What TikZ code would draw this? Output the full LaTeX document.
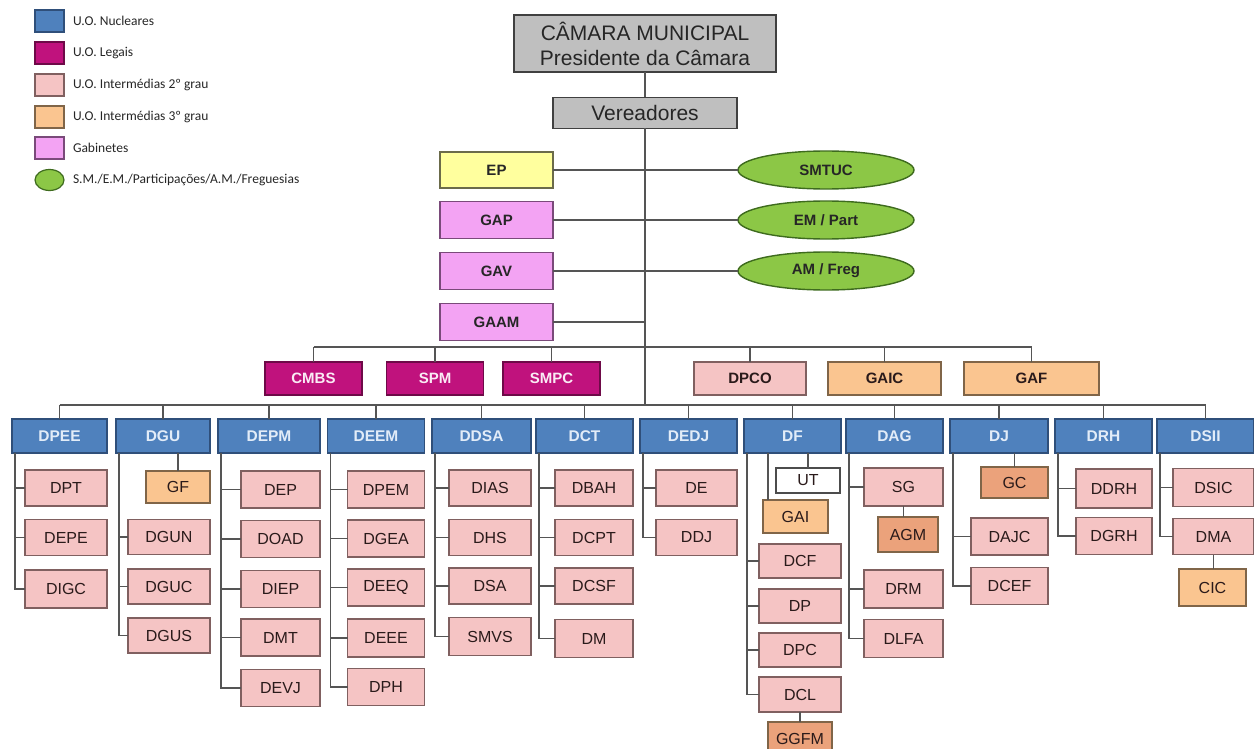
\documentclass[tikz,border=0pt]{standalone}
\usepackage{fontspec}
\setmainfont{Liberation Sans}
\newfontfamily\legfont{Carlito}
\usetikzlibrary{shapes.geometric}
\definecolor{lc}{HTML}{555555}
\definecolor{cgrey}{HTML}{BFBFBF}
\definecolor{cblue}{HTML}{4F81BD}
\definecolor{cblueb}{HTML}{2F4F7A}
\definecolor{cbluet}{HTML}{E2ECF8}
\definecolor{cmag}{HTML}{C0127D}
\definecolor{cmagb}{HTML}{6E0A48}
\definecolor{cpink}{HTML}{F5C4C4}
\definecolor{cpinkb}{HTML}{806060}
\definecolor{corange}{HTML}{FAC590}
\definecolor{corangeb}{HTML}{806548}
\definecolor{cdorange}{HTML}{EBA27B}
\definecolor{cviolet}{HTML}{F3A3F3}
\definecolor{cvioletb}{HTML}{7A4A7A}
\definecolor{cyellow}{HTML}{FFFF9E}
\definecolor{cyellowb}{HTML}{6B6B4A}
\definecolor{cgreen}{HTML}{8CC746}
\definecolor{cgreenb}{HTML}{3E6B1E}
\definecolor{ctext}{HTML}{2A1A1A}
\begin{document}
\begin{tikzpicture}[x=1pt,y=-1pt,
  every node/.style={inner sep=0pt, outer sep=0pt},
  ln/.style={draw=lc, line width=1.3pt},
  sz/.style 2 args={minimum width=#1pt, minimum height=#2pt},
  base/.style={rectangle, line width=1.4pt},
  grey/.style={base, fill=cgrey, draw=black!75, text=black!85, font=\fontsize{21}{25}\selectfont, align=center},
  blue/.style={base, fill=cblue, draw=cblueb, text=cbluet, font=\bfseries\fontsize{15.5}{18}\selectfont, sz={97}{34}},
  mag/.style={base, fill=cmag, draw=cmagb, text=white!92!cmag, font=\bfseries\fontsize{15}{18}\selectfont, sz={97}{33}},
  pk/.style={base, fill=cpink, draw=cpinkb, text=ctext, font=\fontsize{16}{19}\selectfont},
  pkb/.style={pk, font=\bfseries\fontsize{15}{18}\selectfont},
  org/.style={base, fill=corange, draw=corangeb, text=ctext, font=\fontsize{16}{19}\selectfont},
  orgb/.style={org, font=\bfseries\fontsize{15}{18}\selectfont},
  dorg/.style={base, fill=cdorange, draw=corangeb, text=ctext, font=\fontsize{16}{19}\selectfont},
  wht/.style={base, fill=white, draw=black!70, text=ctext, font=\fontsize{16}{19}\selectfont},
  vio/.style={base, fill=cviolet, draw=cvioletb, text=black!85, font=\bfseries\fontsize{15}{18}\selectfont, sz={113}{37}},
  yel/.style={base, fill=cyellow, draw=cyellowb, text=black!85, font=\bfseries\fontsize{15}{18}\selectfont, sz={113}{36}},
  grn/.style={ellipse, fill=cgreen, draw=cgreenb, line width=1.4pt, text=black!85, font=\bfseries\fontsize{15}{18}\selectfont, sz={176}{38}},
  legbox/.style={rectangle, line width=1.2pt, sz={29}{22}},
  legtxt/.style={anchor=west, font=\legfont\fontsize{13.5}{15}\selectfont, text=black!85}
]
\useasboundingbox (0,0) rectangle (1254,749);
\clip (0,0) rectangle (1254,749);

% ---------- legend ----------
\node[legbox, fill=cblue, draw=cblueb] (l1) at (49.5,21) {};
\node[legtxt] (t1) at (73,21) {U.O. Nucleares};
\node[legbox, fill=cmag, draw=cmagb] (l2) at (49.5,53) {};
\node[legtxt] (t2) at (73,53) {U.O. Legais};
\node[legbox, fill=cpink, draw=cpinkb] (l3) at (49.5,85) {};
\node[legtxt] (t3) at (73,85) {U.O. Intermédias 2º grau};
\node[legbox, fill=corange, draw=corangeb] (l4) at (49.5,117) {};
\node[legtxt] (t4) at (73,117) {U.O. Intermédias 3º grau};
\node[legbox, fill=cviolet, draw=cvioletb] (l5) at (49.5,148) {};
\node[legtxt] (t5) at (73,148) {Gabinetes};
\node[ellipse, fill=cgreen, draw=cgreenb, line width=1.2pt, sz={29}{21}] (l6) at (49.5,180) {};
\node[legtxt] (t6) at (73,180) {S.M./E.M./Participações/A.M./Freguesias};

% ---------- top ----------
\node[grey, sz={262}{57}] (cm) at (645,43.5) {CÂMARA MUNICIPAL\\Presidente da Câmara};
\node[grey, sz={184}{31}] (ver) at (645,113) {Vereadores};

\node[yel] (ep) at (496.5,170) {EP};
\node[vio] (gap) at (496.5,220) {GAP};
\node[vio] (gav) at (496.5,271) {GAV};
\node[vio] (gaam) at (496.5,322) {GAAM};
\node[grn] (smtuc) at (826,170) {SMTUC};
\node[grn] (empart) at (826,220) {EM / Part};
\node[grn] (amfreg) at (826,271) {AM / Freg};

\coordinate (b1) at (645,347);
\coordinate (b2) at (645,405);

\node[mag] (cmbs) at (313.5,378.5) {CMBS};
\node[mag] (spm) at (435,378.5) {SPM};
\node[mag] (smpc) at (551.5,378.5) {SMPC};
\node[pkb, sz={112}{33}] (dpco) at (750,378.5) {DPCO};
\node[orgb, sz={113}{33}] (gaic) at (884.5,378.5) {GAIC};
\node[orgb, sz={135}{33}] (gaf) at (1031.5,378.5) {GAF};

% ---------- departments ----------
\node[blue, sz={95}{34}] (dpee) at (59.5,436) {DPEE};
\node[blue, sz={94}{34}] (dgu) at (163,436) {DGU};
\node[blue, sz={102}{34}] (depm) at (269,436) {DEPM};
\node[blue] (deem) at (376,436) {DEEM};
\node[blue, sz={99}{34}] (ddsa) at (481.5,436) {DDSA};
\node[blue] (dct) at (584.5,436) {DCT};
\node[blue] (dedj) at (688.5,436) {DEDJ};
\node[blue] (df) at (792.5,436) {DF};
\node[blue] (dag) at (894.5,436) {DAG};
\node[blue, sz={98}{34}] (dj) at (999,436) {DJ};
\node[blue] (drh) at (1103.5,436) {DRH};
\node[blue] (dsii) at (1205.5,436) {DSII};

% DPEE
\node[pk, sz={82}{36}] (dpt) at (66,488) {DPT};
\node[pk, sz={82}{36}] (depe) at (66,537.5) {DEPE};
\node[pk, sz={82}{38}] (digc) at (66,589) {DIGC};
% DGU
\node[org, sz={64}{32}] (gf) at (178,487) {GF};
\node[pk, sz={82}{35}] (dgun) at (169,537) {DGUN};
\node[pk, sz={82}{35}] (dguc) at (169,586.5) {DGUC};
\node[pk, sz={82}{35}] (dgus) at (169,635.5) {DGUS};
% DEPM
\node[pk, sz={79}{37}] (dep) at (280.5,489.5) {DEP};
\node[pk, sz={79}{37}] (doad) at (280.5,539) {DOAD};
\node[pk, sz={79}{37}] (diep) at (280.5,589) {DIEP};
\node[pk, sz={79}{37}] (dmt) at (280.5,637.5) {DMT};
\node[pk, sz={79}{37}] (devj) at (280.5,688) {DEVJ};
% DEEM
\node[pk, sz={77}{37}] (dpem) at (386,489.5) {DPEM};
\node[pk, sz={77}{37}] (dgea) at (386,538.5) {DGEA};
\node[pk, sz={77}{37}] (deeq) at (386,587.5) {DEEQ};
\node[pk, sz={77}{38}] (deee) at (386,638) {DEEE};
\node[pk, sz={77}{37}] (dph) at (386,687) {DPH};
% DDSA
\node[pk, sz={82}{36}] (dias) at (490,488) {DIAS};
\node[pk, sz={82}{36}] (dhs) at (490,537.5) {DHS};
\node[pk, sz={82}{36}] (dsa) at (490,586) {DSA};
\node[pk, sz={82}{38}] (smvs) at (490,636.5) {SMVS};
% DCT
\node[pk, sz={78}{36}] (dbah) at (594,488) {DBAH};
\node[pk, sz={78}{36}] (dcpt) at (594,537.5) {DCPT};
\node[pk, sz={78}{36}] (dcsf) at (594,586) {DCSF};
\node[pk, sz={78}{38}] (dm) at (594,638.5) {DM};
% DEDJ
\node[pk, sz={81}{36}] (de) at (696.5,488) {DE};
\node[pk, sz={81}{36}] (ddj) at (696.5,537.5) {DDJ};
% DF
\node[wht, sz={64}{25}] (ut) at (808,480.5) {UT};
\node[org, sz={65}{33}] (gai) at (795.5,516.5) {GAI};
\node[pk, sz={82}{34}] (dcf) at (800,561) {DCF};
\node[pk, sz={82}{34}] (dp) at (800,606) {DP};
\node[pk, sz={82}{34}] (dpc) at (800,650) {DPC};
\node[pk, sz={82}{35}] (dcl) at (800,694.5) {DCL};
\node[dorg, sz={64}{34}] (ggfm) at (800,739) {GGFM};
% DAG
\node[pk, sz={79}{38}] (sg) at (903.5,487) {SG};
\node[dorg, sz={60}{35}] (agm) at (908,534.5) {AGM};
\node[pk, sz={79}{38}] (drm) at (903.5,589) {DRM};
\node[pk, sz={79}{38}] (dlfa) at (903.5,638.5) {DLFA};
% DJ
\node[dorg, sz={67}{31}] (gc) at (1014.5,482.5) {GC};
\node[pk, sz={77}{37}] (dajc) at (1009.5,536.5) {DAJC};
\node[pk, sz={77}{37}] (dcef) at (1009.5,586) {DCEF};
% DRH
\node[pk, sz={76}{39}] (ddrh) at (1114,488.5) {DDRH};
\node[pk, sz={76}{37}] (dgrh) at (1114,536) {DGRH};
% DSII
\node[pk, sz={81}{38}] (dsic) at (1213.5,487.5) {DSIC};
\node[pk, sz={81}{36}] (dma) at (1213.5,536.5) {DMA};
\node[org, sz={67}{37}] (cic) at (1212.5,587.5) {CIC};

% ---------- connectors ----------
\draw[ln] (cm) -- (ver);
\draw[ln] (ver) -- (b2);
\draw[ln] (ep) -- (smtuc);
\draw[ln] (gap) -- (empart);
\draw[ln] (gav) -- (amfreg);
\draw[ln] (gaam.east) -- (gaam.east -| b1);

\draw[ln] (cmbs.north |- b1) -- (gaf.north |- b1);
\foreach \n in {cmbs,spm,smpc,dpco,gaic,gaf}
  \draw[ln] (\n.north |- b1) -- (\n.north);

\draw[ln] (dpee.north |- b2) -- (dsii.north |- b2);
\foreach \n in {dpee,dgu,depm,deem,ddsa,dct,dedj,df,dag,dj,drh,dsii}
  \draw[ln] (\n.north |- b2) -- (\n.north);

\foreach \p/\c in {dpee/dpt,dpee/depe,dpee/digc,
  dgu/dgun,dgu/dguc,dgu/dgus,
  depm/dep,depm/doad,depm/diep,depm/dmt,depm/devj,
  deem/dpem,deem/dgea,deem/deeq,deem/deee,deem/dph,
  ddsa/dias,ddsa/dhs,ddsa/dsa,ddsa/smvs,
  dct/dbah,dct/dcpt,dct/dcsf,dct/dm,
  dedj/de,dedj/ddj,
  df/dcf,df/dp,df/dpc,df/dcl,
  dag/sg,dag/drm,dag/dlfa,
  dj/dajc,dj/dcef,
  drh/ddrh,drh/dgrh,
  dsii/dsic,dsii/dma}
  \draw[ln] ([xshift=3pt]\p.south west) |- (\c.west);

\draw[ln] (gf.north) -- (gf.north |- dgu.south);
\draw[ln] (ut.north) -- (ut.north |- df.south);
\draw[ln] ([xshift=5pt]gai.north west) -- ([xshift=5pt]gai.north west |- df.south);
\draw[ln] (dcl.south) -- (ggfm.north);
\draw[ln] (sg.south) -- (sg.south |- agm.north);
\draw[ln] (gc.north) -- (gc.north |- dj.south);
\draw[ln] (dma.south) -- (dma.south |- cic.north);
\end{tikzpicture}
\end{document}
